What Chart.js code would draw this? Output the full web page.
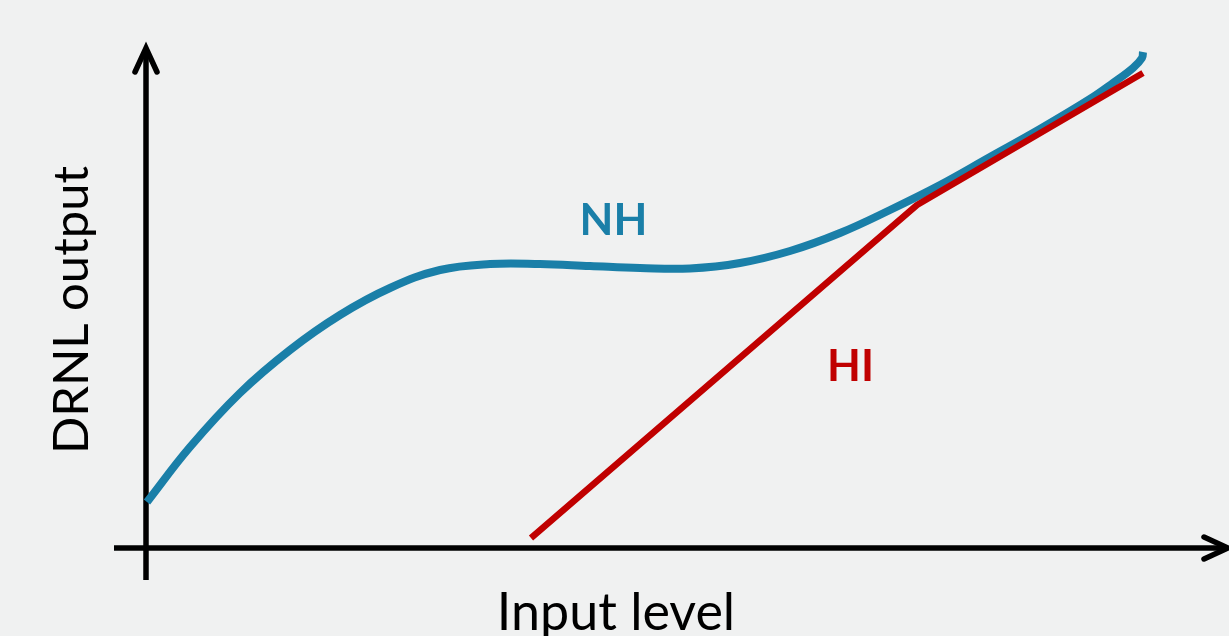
<!DOCTYPE html>
<html>
<head>
<meta charset="utf-8">
<script src="https://cdn.jsdelivr.net/npm/chart.js@4.4.0/dist/chart.umd.min.js"></script>
<style>
  html, body { margin: 0; padding: 0; background: #f0f1f1; overflow: hidden; }
  #wrap { width: 1229px; height: 636px; }
</style>
</head>
<body>
<div id="wrap"><canvas id="c" width="1229" height="636"></canvas></div>
<script>
// Normal-hearing (NH) DRNL input/output curve (arbitrary units 0-100)
const nhX = [0.1, 4.4, 9.4, 14.4, 19.4, 24.4, 29.4, 34.4, 39.4, 44.4, 49.4, 54.4, 59.4, 64.4, 69.4, 74.4, 79.4, 84.4, 89.4, 94.4, 96.7, 98.7, 99.6, 99.7];
const nhY = [9.2, 20.2, 31.0, 39.6, 46.6, 52.0, 55.6, 56.8, 56.8, 56.4, 56.0, 55.9, 57.0, 59.4, 63.0, 67.6, 72.6, 78.2, 83.8, 89.8, 93.0, 96.0, 98.0, 99.2];
// Hearing-impaired (HI) curve: a broken straight line
const hiX = [38.5, 77.1, 99.7];
const hiY = [2.0, 68.6, 95.0];
// Text
const xTitle = 'Input level';
const yTitle = 'DRNL output';
const nhLabel = 'NH';
const hiLabel = 'HI';

const BLUE = '#1a7fa8';
const RED = '#c00000';

function pts(xs, ys) { return xs.map((x, i) => ({ x: x, y: ys[i] })); }

function fitFont(ctx, text, weight, family, targetW) {
  ctx.font = weight + ' 100px ' + family;
  const w = ctx.measureText(text).width;
  return Math.round(100 * targetW / w);
}

const decor = {
  id: 'decor',
  beforeDatasetsDraw(chart) {
    const ctx = chart.ctx;
    const xs = chart.scales.x, ys = chart.scales.y;
    const x0 = xs.getPixelForValue(0), y0 = ys.getPixelForValue(0);
    const yTop = ys.getPixelForValue(100);
    const yBot = ys.getPixelForValue(-6.4);
    const xLeft = xs.getPixelForValue(-3.2);
    const xRight = xs.getPixelForValue(108.2);
    ctx.save();
    ctx.strokeStyle = '#000';
    ctx.lineWidth = 5.5;
    ctx.lineCap = 'butt';
    ctx.beginPath(); ctx.moveTo(x0, yBot); ctx.lineTo(x0, yTop + 2); ctx.stroke();
    ctx.beginPath(); ctx.moveTo(xLeft, y0); ctx.lineTo(xRight - 2, y0); ctx.stroke();
    ctx.lineCap = 'round'; ctx.lineJoin = 'miter';
    ctx.beginPath();
    ctx.moveTo(x0 - 11, yTop + 24); ctx.lineTo(x0, yTop); ctx.lineTo(x0 + 11, yTop + 24);
    ctx.stroke();
    ctx.beginPath();
    ctx.moveTo(xRight - 24, y0 - 11); ctx.lineTo(xRight, y0); ctx.lineTo(xRight - 24, y0 + 11);
    ctx.stroke();
    ctx.restore();
  },
  afterDatasetsDraw(chart) {
    const ctx = chart.ctx;
    ctx.save();
    ctx.fillStyle = '#000';
    ctx.textAlign = 'center';
    ctx.textBaseline = 'alphabetic';
    const fam = 'Lato, "Open Sans", sans-serif';
    let fs = fitFont(ctx, xTitle, 'normal', fam, 237);
    ctx.font = 'normal ' + fs + 'px ' + fam;
    ctx.fillText(xTitle, 616, 630);
    fs = fitFont(ctx, yTitle, 'normal', fam, 290);
    ctx.font = 'normal ' + fs + 'px ' + fam;
    ctx.translate(88, 310); ctx.rotate(-Math.PI / 2);
    ctx.fillText(yTitle, 0, 0);
    ctx.setTransform(1, 0, 0, 1, 0, 0);
    ctx.font = 'bold 44px ' + fam;
    ctx.fillStyle = BLUE;
    ctx.fillText(nhLabel, 613.5, 235);
    ctx.fillStyle = RED;
    ctx.fillText(hiLabel, 850.5, 381);
    ctx.restore();
  }
};

new Chart(document.getElementById('c'), {
  type: 'line',
  data: {
    datasets: [
      { label: hiLabel, data: pts(hiX, hiY), borderColor: RED, borderWidth: 6.5, tension: 0,
        pointRadius: 0, fill: false, clip: false, borderCapStyle: 'butt', borderJoinStyle: 'round' },
      { label: nhLabel, data: pts(nhX, nhY), borderColor: BLUE, borderWidth: 8, tension: 0.4,
        pointRadius: 0, fill: false, clip: false, borderCapStyle: 'butt', borderJoinStyle: 'round' }
    ]
  },
  options: {
    responsive: false,
    devicePixelRatio: 1,
    animation: false,
    layout: { padding: { left: 146, right: 83, top: 48, bottom: 88 } },
    plugins: { legend: { display: false }, tooltip: { enabled: false } },
    scales: {
      x: { type: 'linear', min: 0, max: 100, display: false },
      y: { type: 'linear', min: 0, max: 100, display: false }
    }
  },
  plugins: [decor]
});
</script>
</body>
</html>
